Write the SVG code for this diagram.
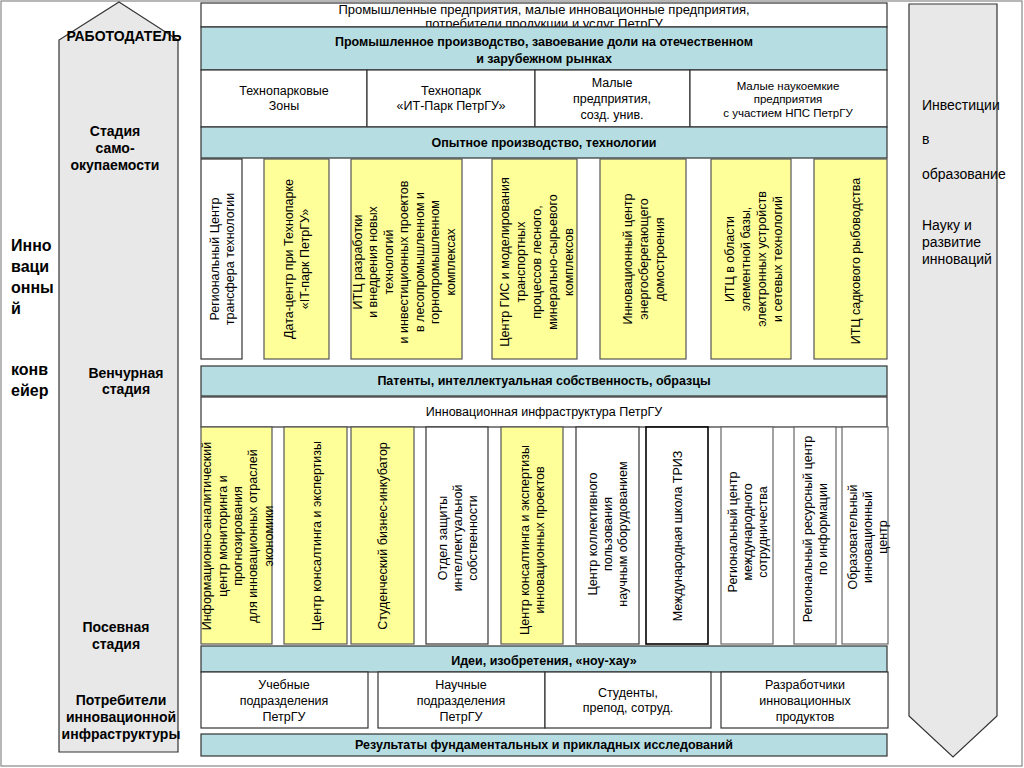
<svg xmlns="http://www.w3.org/2000/svg" width="1024" height="768" viewBox="0 0 1024 768">
<style>
text{font-family:"Liberation Sans",Arial,sans-serif;font-size:12.5px;fill:#000}
.c{text-anchor:middle}
.b{font-weight:bold}
.s{font-size:11.5px}
.lab{font-weight:bold;font-size:14px;text-anchor:middle}
.big{font-weight:bold;font-size:16px}
.rt{font-size:14px}
.band{fill:#b6dde1;stroke:#333;stroke-width:1.2}
.wbox{fill:#fff;stroke:#333;stroke-width:1.2}
.gbox{fill:#fff;stroke:#666;stroke-width:1.2}
.ybox{fill:#ffff99;stroke:#555;stroke-width:1.2}
.arrow{fill:#e8e8e8;stroke:#333;stroke-width:1.2}
</style>
<rect x="0" y="0" width="1024" height="768" fill="#fff"/>
<rect x="1" y="1" width="1021" height="765" fill="none" stroke="#888" stroke-width="1.2"/>

<g id="left-arrow">
<polygon class="arrow" points="119,2 178,40 178,752 59,752 59,40"/>
<text class="lab" x="124" y="41">РАБОТОДАТЕЛЬ</text>
<text class="lab"><tspan x="115" y="136">Стадия</tspan><tspan x="115" y="153">само-</tspan><tspan x="115" y="170">окупаемости</tspan></text>
<text class="lab"><tspan x="126" y="378">Венчурная</tspan><tspan x="126" y="394">стадия</tspan></text>
<text class="lab"><tspan x="116" y="632">Посевная</tspan><tspan x="116" y="649">стадия</tspan></text>
<text class="lab"><tspan x="121" y="705">Потребители</tspan><tspan x="121" y="722">инновационной</tspan><tspan x="121" y="739">инфраструктуры</tspan></text>
</g>

<g id="side-title">
<text class="big"><tspan x="11" y="251">Инно</tspan><tspan x="11" y="272">ваци</tspan><tspan x="11" y="293">онны</tspan><tspan x="11" y="314">й</tspan><tspan x="11" y="375">конв</tspan><tspan x="11" y="396">ейер</tspan></text>
</g>

<g id="right-arrow">
<polygon class="arrow" points="909,4 997,4 997,716 953,757 909,716"/>
<text class="rt"><tspan x="922" y="110">Инвестиции</tspan><tspan x="922" y="144">в</tspan><tspan x="922" y="179">образование</tspan><tspan x="922" y="230">Науку и</tspan><tspan x="922" y="247">развитие</tspan><tspan x="922" y="264">инноваций</tspan></text>
</g>

<g id="consumers">
<rect class="wbox" x="201" y="3" width="686" height="24"/>
<text class="c" style="font-size:13px"><tspan x="544" y="14">Промышленные предприятия, малые инновационные предприятия,</tspan><tspan x="544" y="28">потребители продукции и услуг ПетрГУ</tspan></text>
</g>

<g id="industry">
<rect class="band" x="201" y="27" width="686" height="43"/>
<text class="c b"><tspan x="544" y="46">Промышленное производство, завоевание доли на отечественном</tspan><tspan x="544" y="63">и зарубежном рынках</tspan></text>
</g>

<g id="techpark-zones">
<rect class="wbox" x="201" y="70" width="166" height="57"/>
<text class="c"><tspan x="284" y="95">Технопарковые</tspan><tspan x="284" y="110">Зоны</tspan></text>
</g>
<g id="it-park">
<rect class="wbox" x="367" y="70" width="168" height="57"/>
<text class="c"><tspan x="451" y="95">Технопарк</tspan><tspan x="451" y="110">«ИТ-Парк ПетрГУ»</tspan></text>
</g>
<g id="small-enterprises">
<rect class="wbox" x="535" y="70" width="155" height="57"/>
<text class="c"><tspan x="612" y="87">Малые</tspan><tspan x="612" y="103">предприятия,</tspan><tspan x="612" y="119">созд. унив.</tspan></text>
</g>
<g id="knowledge-enterprises">
<rect class="wbox" x="690" y="70" width="197" height="57"/>
<text class="c s"><tspan x="788" y="90">Малые наукоемкие</tspan><tspan x="788" y="103">предприятия</tspan><tspan x="788" y="117">с участием НПС ПетрГУ</tspan></text>
</g>

<g id="pilot-production">
<rect class="band" x="201" y="127" width="686" height="31"/>
<text class="c b" x="544" y="147">Опытное производство, технологии</text>
</g>

<g id="u1">
<rect class="wbox" x="201" y="159" width="41" height="200"/>
<text class="c" transform="translate(222,259) rotate(-90)"><tspan x="0" y="-3.1">Региональный Центр</tspan><tspan x="0" y="11.9">трансфера технологии</tspan></text>
</g>
<g id="u2">
<rect class="ybox" x="264" y="159" width="65" height="200"/>
<text class="c" transform="translate(297,259) rotate(-90)"><tspan x="0" y="-3.6">Дата-центр при Технопарке</tspan><tspan x="0" y="12.4">«IT-парк ПетрГУ»</tspan></text>
</g>
<g id="u3">
<rect class="ybox" x="351" y="159" width="111" height="200"/>
<text class="c" transform="translate(404,262) rotate(-90)"><tspan x="0" y="-42.1">ИТЦ разработки</tspan><tspan x="0" y="-26.6">и внедрения новых</tspan><tspan x="0" y="-11.1">технологий</tspan><tspan x="0" y="4.4">и инвестиционных проектов</tspan><tspan x="0" y="19.9">в лесопромышленном и</tspan><tspan x="0" y="35.4">горнопромышленном</tspan><tspan x="0" y="50.9">комплексах</tspan></text>
</g>
<g id="u4">
<rect class="ybox" x="492" y="159" width="85" height="200"/>
<text class="c" transform="translate(537,262) rotate(-90)"><tspan x="0" y="-27.6">Центр ГИС и моделирования</tspan><tspan x="0" y="-11.6">транспортных</tspan><tspan x="0" y="4.4">процессов лесного,</tspan><tspan x="0" y="20.4">минерально-сырьевого</tspan><tspan x="0" y="36.4">комплексов</tspan></text>
</g>
<g id="u5">
<rect class="ybox" x="600" y="159" width="86" height="200"/>
<text class="c" transform="translate(644,259) rotate(-90)"><tspan x="0" y="-11.6">Инновационный центр</tspan><tspan x="0" y="4.4">энергосберегающего</tspan><tspan x="0" y="20.4">домостроения</tspan></text>
</g>
<g id="u6">
<rect class="ybox" x="711" y="159" width="80" height="200"/>
<text class="c" transform="translate(754,259) rotate(-90)"><tspan x="0" y="-19.6">ИТЦ в области</tspan><tspan x="0" y="-3.6">элементной базы,</tspan><tspan x="0" y="12.4">электронных устройств</tspan><tspan x="0" y="28.4">и сетевых технологий</tspan></text>
</g>
<g id="u7">
<rect class="ybox" x="814" y="159" width="73" height="200"/>
<text class="c" transform="translate(856,261) rotate(-90)"><tspan x="0" y="4.4">ИТЦ садкового рыбоводства</tspan></text>
</g>

<g id="patents">
<rect class="band" x="201" y="366" width="686" height="30"/>
<text class="c b" x="544" y="385">Патенты, интеллектуальная собственность, образцы</text>
</g>

<g id="infrastructure">
<rect class="wbox" x="201" y="397" width="686" height="30"/>
<text class="c" x="544" y="416">Инновационная инфраструктура ПетрГУ</text>
</g>

<g id="l1">
<rect class="ybox" x="201" y="427" width="71" height="217"/>
<text class="c" transform="translate(237.5,536) rotate(-90)"><tspan x="0" y="-26.2">Информационно-аналитический</tspan><tspan x="0" y="-10.9">центр мониторинга и</tspan><tspan x="0" y="4.4">прогнозирования</tspan><tspan x="0" y="19.7">для инновационных отраслей</tspan><tspan x="0" y="35">экономики</tspan></text>
</g>
<g id="l2">
<rect class="ybox" x="284" y="427" width="63" height="217"/>
<text class="c" transform="translate(317,536) rotate(-90)"><tspan x="0" y="4.4">Центр консалтинга и экспертизы</tspan></text>
</g>
<g id="l3">
<rect class="ybox" x="351" y="427" width="63" height="217"/>
<text class="c" transform="translate(383,536) rotate(-90)"><tspan x="0" y="4.4">Студенческий бизнес-инкубатор</tspan></text>
</g>
<g id="l4">
<rect class="wbox" x="426" y="427" width="62" height="217"/>
<text class="c" transform="translate(458,538) rotate(-90)"><tspan x="0" y="-10.6">Отдел защиты</tspan><tspan x="0" y="4.4">интеллектуальной</tspan><tspan x="0" y="19.4">собственности</tspan></text>
</g>
<g id="l5">
<rect class="ybox" x="501" y="427" width="62" height="217"/>
<text class="c" transform="translate(532.5,540) rotate(-90)"><tspan x="0" y="-3.1">Центр консалтинга и экспертизы</tspan><tspan x="0" y="11.9">инновационных проектов</tspan></text>
</g>
<g id="l6">
<rect class="wbox" x="576" y="427" width="63" height="217"/>
<text class="c" transform="translate(607.5,534) rotate(-90)"><tspan x="0" y="-10.6">Центр коллективного</tspan><tspan x="0" y="4.4">пользования</tspan><tspan x="0" y="19.4">научным оборудованием</tspan></text>
</g>
<g id="l7">
<rect x="646" y="427" width="62" height="217" fill="#fff" stroke="#000" stroke-width="1.6"/>
<text class="c" transform="translate(678,536) rotate(-90)"><tspan x="0" y="4.4">Международная школа ТРИЗ</tspan></text>
</g>
<g id="l8">
<rect class="gbox" x="721" y="427" width="52" height="217"/>
<text class="c" transform="translate(748,532) rotate(-90)"><tspan x="0" y="-10.6">Региональный центр</tspan><tspan x="0" y="4.4">международного</tspan><tspan x="0" y="19.4">сотрудничества</tspan></text>
</g>
<g id="l9">
<rect class="gbox" x="794" y="427" width="42" height="217"/>
<text class="c" transform="translate(815,529) rotate(-90)"><tspan x="0" y="-3.1">Региональный ресурсный центр</tspan><tspan x="0" y="11.9">по информации</tspan></text>
</g>
<g id="l10">
<rect class="gbox" x="842" y="427" width="46" height="217"/>
<text class="c" transform="translate(868,537) rotate(-90)"><tspan x="0" y="-10.6">Образовательный</tspan><tspan x="0" y="4.4">инновационный</tspan><tspan x="0" y="19.4">центр</tspan></text>
</g>

<g id="ideas">
<rect class="band" x="201" y="646" width="686" height="26"/>
<text class="c b" x="544" y="665">Идеи, изобретения, «ноу-хау»</text>
</g>

<g id="edu-units">
<rect class="wbox" x="201" y="672" width="167" height="56"/>
<text class="c"><tspan x="284" y="689">Учебные</tspan><tspan x="284" y="705">подразделения</tspan><tspan x="284" y="721">ПетрГУ</tspan></text>
</g>
<g id="sci-units">
<rect class="wbox" x="378" y="672" width="167" height="56"/>
<text class="c"><tspan x="461" y="689">Научные</tspan><tspan x="461" y="705">подразделения</tspan><tspan x="461" y="721">ПетрГУ</tspan></text>
</g>
<g id="students">
<rect class="wbox" x="545" y="672" width="166" height="56"/>
<text class="c"><tspan x="628" y="697">Студенты,</tspan><tspan x="628" y="712">препод, сотруд.</tspan></text>
</g>
<g id="developers">
<rect class="wbox" x="721" y="672" width="167" height="56"/>
<text class="c"><tspan x="805" y="689">Разработчики</tspan><tspan x="805" y="705">инновационных</tspan><tspan x="805" y="721">продуктов</tspan></text>
</g>

<g id="research">
<rect class="band" x="201" y="734" width="686" height="22"/>
<text class="c b" x="544" y="749">Результаты фундаментальных и прикладных исследований</text>
</g>

<g id="connectors"/>
</svg>
